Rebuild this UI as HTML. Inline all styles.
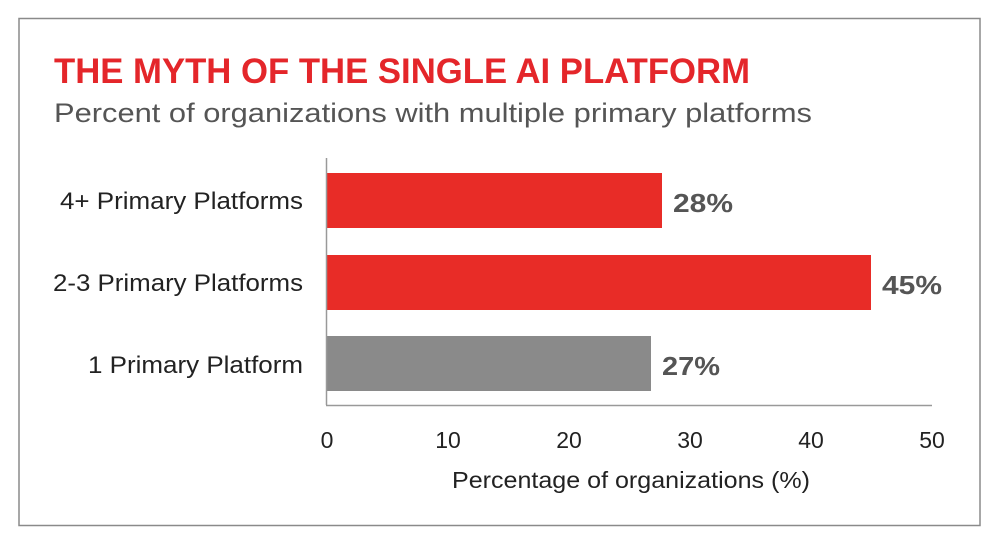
<!DOCTYPE html>
<html><head><meta charset="utf-8"><style>
html,body{margin:0;padding:0;background:#fff;width:1000px;height:545px;overflow:hidden}
svg text{font-family:"Liberation Sans",sans-serif}
</style></head><body>
<svg width="1000" height="545" xmlns="http://www.w3.org/2000/svg">
<rect x="19" y="18.5" width="961" height="507" fill="#fff" stroke="#8a8a8a" stroke-width="1.5"/>
<text x="54" y="83" font-size="35" font-weight="bold" fill="#e4262a" textLength="696" lengthAdjust="spacingAndGlyphs">THE MYTH OF THE SINGLE AI PLATFORM</text>
<text x="54" y="122" font-size="27" fill="#555" textLength="758" lengthAdjust="spacingAndGlyphs">Percent of organizations with multiple primary platforms</text>
<rect x="327" y="173" width="335" height="55" fill="#e82c27"/>
<rect x="327" y="255" width="544" height="55" fill="#e82c27"/>
<rect x="327" y="336" width="324" height="55" fill="#8a8a8a"/>
<line x1="326.5" y1="158" x2="326.5" y2="405" stroke="#999" stroke-width="1.5"/>
<line x1="326" y1="405.5" x2="932" y2="405.5" stroke="#999" stroke-width="1.5"/>
<g font-size="24" fill="#222" text-anchor="end">
<text x="303" y="209" textLength="243" lengthAdjust="spacingAndGlyphs">4+ Primary Platforms</text>
<text x="303" y="291" textLength="250" lengthAdjust="spacingAndGlyphs">2-3 Primary Platforms</text>
<text x="303" y="373" textLength="215" lengthAdjust="spacingAndGlyphs">1 Primary Platform</text>
</g>
<g font-size="26" font-weight="bold" fill="#555">
<text x="673" y="212" textLength="60" lengthAdjust="spacingAndGlyphs">28%</text>
<text x="882" y="294" textLength="60" lengthAdjust="spacingAndGlyphs">45%</text>
<text x="662" y="375" textLength="58" lengthAdjust="spacingAndGlyphs">27%</text>
</g>
<g font-size="23" fill="#222" text-anchor="middle">
<text x="327" y="448">0</text>
<text x="448" y="448">10</text>
<text x="569" y="448">20</text>
<text x="690" y="448">30</text>
<text x="811" y="448">40</text>
<text x="932" y="448">50</text>
<text x="631" y="488" textLength="358" lengthAdjust="spacingAndGlyphs">Percentage of organizations (%)</text>
</g>
</svg>
</body></html>
